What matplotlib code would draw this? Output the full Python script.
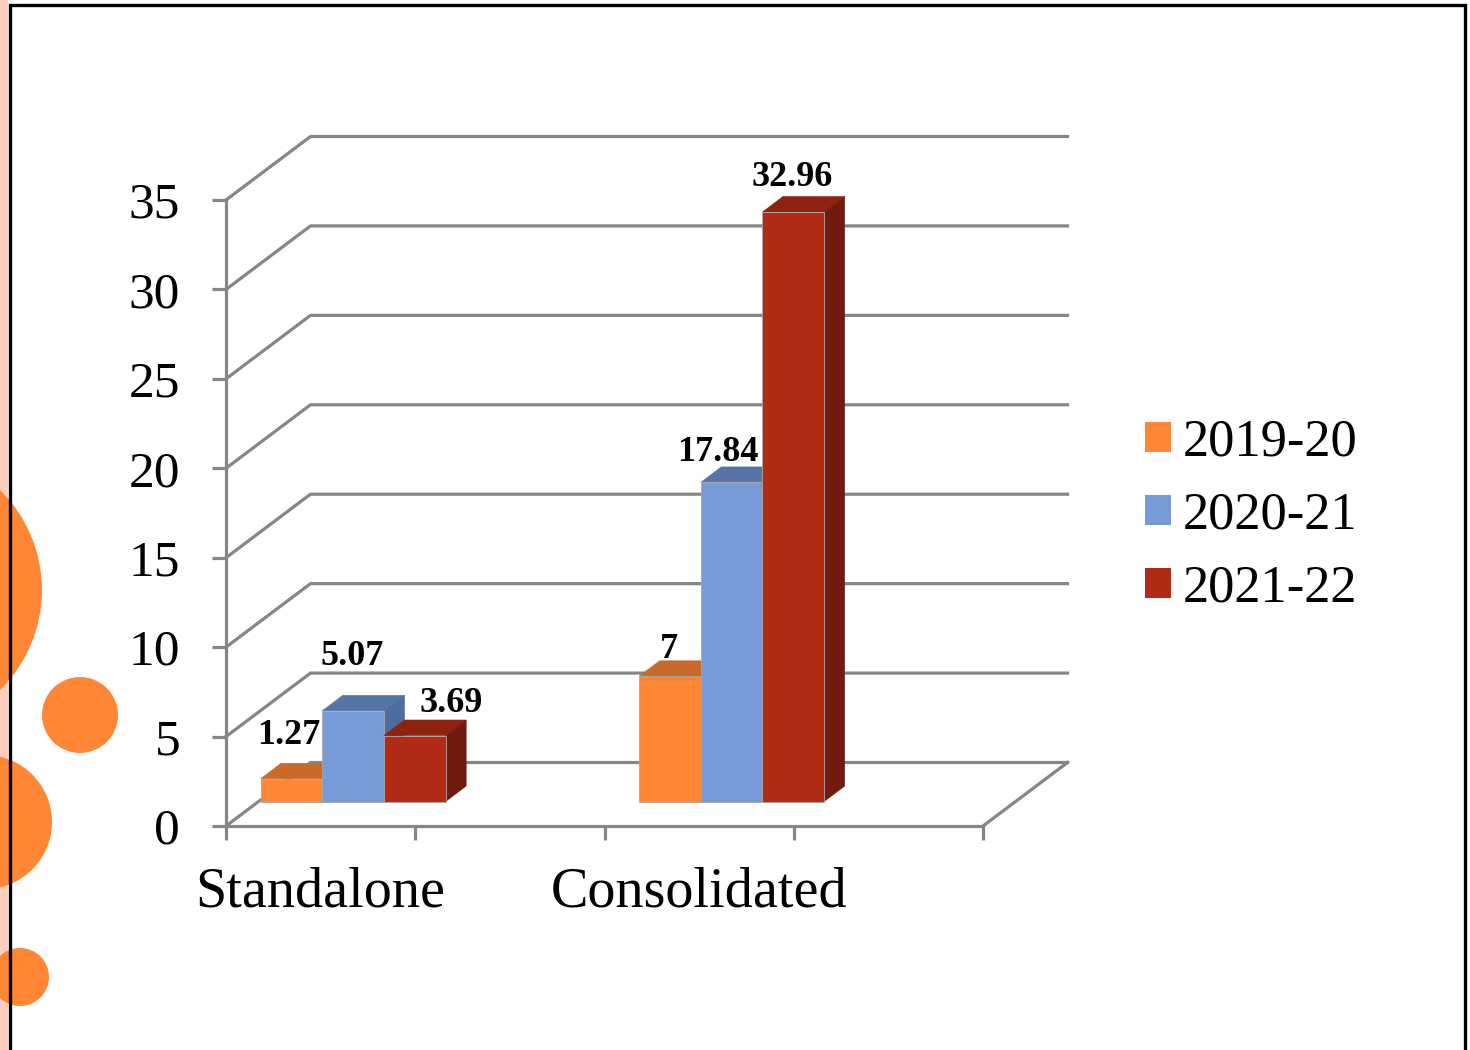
import matplotlib
matplotlib.use("Agg")
import matplotlib.pyplot as plt
from matplotlib.patches import Circle, Patch, Polygon, Rectangle

categories = ["Standalone", "Consolidated"]
series_names = ["2019-20", "2020-21", "2021-22"]
values_2019 = [1.27, 7]
values_2020 = [5.07, 17.84]
values_2021 = [3.69, 32.96]
label_2019 = ["1.27", "7"]
label_2020 = ["5.07", "17.84"]
label_2021 = ["3.69", "32.96"]
y_ticks = [0, 5, 10, 15, 20, 25, 30, 35]

W, H = 1470, 1050
FONT = "Liberation Serif"
GRID = "#868686"
FRONT = ["#FF8635", "#779AD9", "#B22B14"]
TOP = ["#C86A28", "#5574A8", "#8F2210"]
SIDE = ["#B85F22", "#4D6CA0", "#701B0E"]
CATEGORY_SLOTS = [0.5, 2.5]

fig = plt.figure(figsize=(W / 100, H / 100), dpi=100, facecolor="white")

# slide decoration, in pixel coordinates
bg = fig.add_axes([0, 0, 1, 1], zorder=0)
bg.set_xlim(0, W)
bg.set_ylim(H, 0)
bg.axis("off")
bg.add_patch(Rectangle((0, 0), 8, H, color="#FFCDBB", lw=0))
for cx, cy, r in [(-98, 590, 140), (80, 715, 38), (-15, 822, 67), (20, 977, 29)]:
    bg.add_patch(Circle((cx, cy), r, color="#FF8635", lw=0))
bg.plot([10, 10, 1465, 1465], [H, 5, 5, H], color="black", lw=2.4, solid_joinstyle="miter")

# chart axes: the front plane of the 3-D box
ax = fig.add_axes([226 / W, (H - 826) / H, 757 / W, 626 / H], zorder=1)
ax.patch.set_alpha(0)
ax.set_xlim(0, 4)
ax.set_ylim(0, 35)
PX = 4 / 757
PY = 35 / 626
BACK_X, BACK_Y = 84.5 * PX, 63.5 * PY
FLOOR_X, FLOOR_Y = 32.5 * PX, 24.5 * PY
DEPTH_X, DEPTH_Y = 20.5 * PX, 15.5 * PY
BAR_W = 61.7 * PX

for s in ("top", "right"):
    ax.spines[s].set_visible(False)
for s in ("left", "bottom"):
    ax.spines[s].set_color(GRID)
    ax.spines[s].set_linewidth(2.3)

ax.set_yticks(y_ticks)
ax.tick_params(axis="y", length=10, width=2.3, color=GRID, pad=23, labelsize=37)
ax.set_xticks(range(5))
ax.set_xticklabels([])
ax.tick_params(axis="x", which="major", length=10, width=2.3, color=GRID)
ax.set_xticks(CATEGORY_SLOTS, minor=True)
ax.set_xticklabels(categories, minor=True, fontfamily=FONT, fontsize=40.5)
ax.tick_params(axis="x", which="minor", length=0, pad=29.5)
for t in ax.get_yticklabels():
    t.set_fontfamily(FONT)

# walls and floor
for v in y_ticks:
    ax.plot([0, BACK_X, 4 + BACK_X], [v, v + BACK_Y, v + BACK_Y],
            color=GRID, lw=2.3, clip_on=False, zorder=1, solid_joinstyle="round")
ax.plot([4, 4 + BACK_X], [0, BACK_Y], color=GRID, lw=2.3, clip_on=False, zorder=1)

# bars
offsets = {  # label centre relative to the top-centre of the bar front, in pixels
    (0, 0): (-3, 43), (0, 1): (-1, 54), (0, 2): (36, 32),
    (1, 0): (-1, 27), (1, 1): (-14, 30), (1, 2): (-1, 34),
}
all_values = [values_2019, values_2020, values_2021]
all_labels = [label_2019, label_2020, label_2021]
for c in range(len(categories)):
    centre = CATEGORY_SLOTS[c] + FLOOR_X
    for s in range(3):
        v = all_values[s][c]
        x0 = centre + (s - 1.5) * BAR_W
        x1 = x0 + BAR_W
        y0 = FLOOR_Y
        y1 = FLOOR_Y + v
        z = 3 + s
        ax.add_patch(Polygon([(x0, y1), (x1, y1), (x1 + DEPTH_X, y1 + DEPTH_Y), (x0 + DEPTH_X, y1 + DEPTH_Y)],
                             facecolor=TOP[s], edgecolor=TOP[s], linewidth=0.4, clip_on=False, zorder=z))
        ax.add_patch(Polygon([(x1, y0), (x1 + DEPTH_X, y0 + DEPTH_Y), (x1 + DEPTH_X, y1 + DEPTH_Y), (x1, y1)],
                             facecolor=SIDE[s], edgecolor=SIDE[s], linewidth=0.4, clip_on=False, zorder=z))
        ax.bar(x0, v, BAR_W, bottom=y0, align="edge", color=FRONT[s], edgecolor="#A8A8A8",
               linewidth=0.6, clip_on=False, zorder=z)
        dx, dy = offsets[(c, s)]
        ax.annotate(all_labels[s][c], ((x0 + x1) / 2, y1), xytext=(dx * 0.72, dy * 0.72),
                    textcoords="offset points", ha="center", va="center", fontfamily=FONT,
                    fontweight="bold", fontsize=26, color="black", zorder=10, annotation_clip=False)

# legend
handles = [Patch(facecolor=FRONT[i], edgecolor="none", label=series_names[i]) for i in range(3)]
fig.legend(handles=handles, loc="upper left", bbox_to_anchor=(1145 / W, 1 - 419 / H), frameon=False,
           prop={"family": FONT, "size": 37.8}, handlelength=0.5, handleheight=0.5,
           handletextpad=0.22, labelspacing=0.47, borderpad=0, borderaxespad=0)

fig.savefig("out.png", dpi=100)
